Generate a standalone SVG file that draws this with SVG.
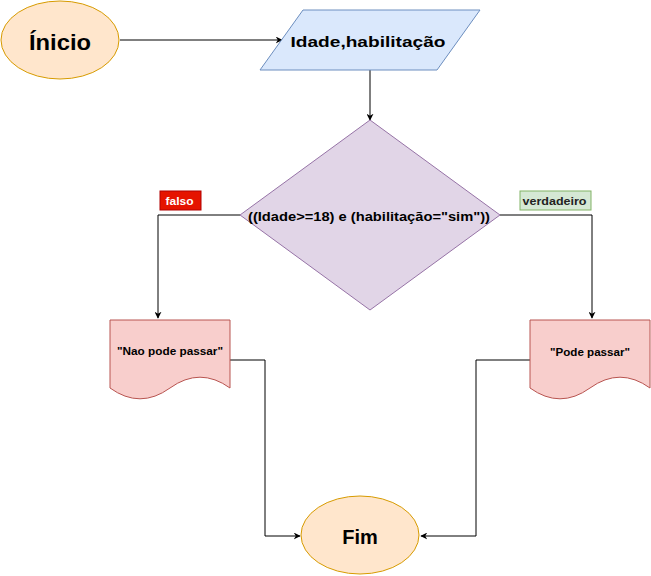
<svg xmlns="http://www.w3.org/2000/svg" width="651" height="576" viewBox="0 0 651 576">
<defs>
<marker id="arr" viewBox="0 0 10 10" refX="9" refY="5" markerWidth="7" markerHeight="7" orient="auto" markerUnits="userSpaceOnUse">
<path d="M0,0 L10,5 L0,10 L3,5 Z" fill="#000"/>
</marker>
</defs>
<style>
text{font-family:"Liberation Sans",Arial,sans-serif;font-weight:bold;text-anchor:middle;dominant-baseline:central;fill:#000}
.term{fill:#ffe6cc;stroke:#d79b00;stroke-width:1}
.edge{fill:none;stroke:#000;stroke-width:1;marker-end:url(#arr)}
.doc{fill:#f8cecc;stroke:#b85450;stroke-width:1}
</style>
<rect width="651" height="576" fill="#fff"/>
<g id="connectors">
<path class="edge" d="M120,40 L282,40"/>
<path class="edge" d="M370,70 L370,120"/>
<path class="edge" d="M240,215 L158,215 L158,318"/>
<path class="edge" d="M500,215 L592,215 L592,318"/>
<path class="edge" d="M230,360 L265,360 L265,536 L300,536"/>
<path class="edge" d="M530,360 L476,360 L476,536 L421,536"/>
</g>
<g id="inicio">
<ellipse class="term" cx="60" cy="40" rx="59" ry="39"/>
<text x="60" y="42" font-size="22" textLength="62" lengthAdjust="spacingAndGlyphs">Ínicio</text>
</g>
<g id="entrada">
<polygon points="303,10 480,10 437,70 260,70" fill="#dae8fc" stroke="#6c8ebf"/>
<text x="368" y="41" font-size="15" textLength="155" lengthAdjust="spacingAndGlyphs">Idade,habilitação</text>
</g>
<g id="decisao">
<polygon points="370,120 500,215 370,310 240,215" fill="#e1d5e7" stroke="#9673a6"/>
<text x="369" y="217" font-size="12" textLength="242" lengthAdjust="spacingAndGlyphs">((Idade&gt;=18) e (habilitação="sim"))</text>
</g>
<g id="falso">
<rect x="160" y="191" width="41" height="19" fill="#e51400" stroke="#b20000"/>
<text x="179.5" y="201" font-size="10" textLength="28" lengthAdjust="spacingAndGlyphs" style="fill:#fff">falso</text>
</g>
<g id="verdadeiro">
<rect x="520" y="191" width="71" height="19" fill="#d5e8d4" stroke="#82b366"/>
<text x="554.5" y="201" font-size="10" textLength="64" lengthAdjust="spacingAndGlyphs" style="fill:#222">verdadeiro</text>
</g>
<g id="nao">
<path class="doc" d="M110,320 L230,320 L230,388 Q200,366.4 170,388 Q140,409.6 110,388 Z"/>
<text x="170" y="351" font-size="10" textLength="106" lengthAdjust="spacingAndGlyphs">"Nao pode passar"</text>
</g>
<g id="pode">
<path class="doc" d="M530,320 L650,320 L650,388 Q620,366.4 590,388 Q560,409.6 530,388 Z"/>
<text x="590" y="352" font-size="10" textLength="80" lengthAdjust="spacingAndGlyphs">"Pode passar"</text>
</g>
<g id="fim">
<ellipse class="term" cx="360" cy="535" rx="59" ry="39"/>
<text x="360" y="537" font-size="20">Fim</text>
</g>
</svg>
